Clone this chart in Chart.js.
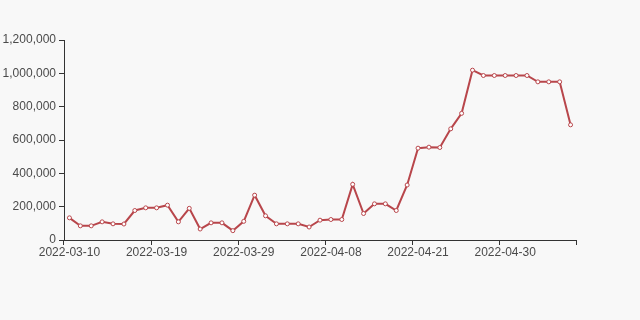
<!DOCTYPE html>
<html>
<head>
<meta charset="utf-8">
<script src="https://cdn.jsdelivr.net/npm/chart.js@4"></script>
<style>
  html, body { margin: 0; padding: 0; background: #f8f8f8; }
  #wrap { width: 640px; height: 320px; }
</style>
</head>
<body>
<div id="wrap"><canvas id="lineChart" width="640" height="320"></canvas></div>
<script>
// category dates (only every 8th one is labelled on the axis)
const dates = [
  '2022-03-10', '2022-03-11', '2022-03-12', '2022-03-14', '2022-03-15', '2022-03-16',
  '2022-03-17', '2022-03-18', '2022-03-19', '2022-03-20', '2022-03-22', '2022-03-23',
  '2022-03-24', '2022-03-25', '2022-03-26', '2022-03-28', '2022-03-29', '2022-03-30',
  '2022-03-31', '2022-04-01', '2022-04-02', '2022-04-05', '2022-04-06', '2022-04-07',
  '2022-04-08', '2022-04-09', '2022-04-11', '2022-04-12', '2022-04-14', '2022-04-15',
  '2022-04-18', '2022-04-19', '2022-04-21', '2022-04-22', '2022-04-23', '2022-04-24',
  '2022-04-25', '2022-04-26', '2022-04-27', '2022-04-28', '2022-04-30', '2022-05-01',
  '2022-05-02', '2022-05-03', '2022-05-04', '2022-05-05', '2022-05-06'
];

const values = [
  133000, 85000, 85000, 109000, 97000, 96000,
  177000, 193000, 193000, 209000, 109000, 190000,
  66000, 103000, 103000, 56000, 112000, 269000,
  145000, 97000, 97000, 97000, 78000, 119000,
  123000, 123000, 334000, 159000, 217000, 217000,
  177000, 330000, 551000, 557000, 555000, 667000,
  760000, 1019000, 987000, 987000, 987000, 987000,
  987000, 949000, 949000, 949000, 691000
];

const yTicks = [0, 200000, 400000, 600000, 800000, 1000000, 1200000];

const labelEvery = 8;
const axisColor = '#333';
const textColor = '#4a4a4a';
const lineColor = '#b8464b';

const ctx = document.getElementById('lineChart').getContext('2d');
const chart = new Chart(ctx, {
  type: 'line',
  data: {
    labels: dates,
    datasets: [{
      data: values,
      borderColor: lineColor,
      borderWidth: 2,
      pointRadius: 2,
      pointBorderWidth: 1,
      pointBackgroundColor: '#fff',
      pointBorderColor: lineColor,
      tension: 0
    }]
  },
  options: {
    responsive: false,
    animation: false,
    layout: { padding: { left: 0, top: 40, right: 64, bottom: 50 } },
    plugins: {
      legend: { display: false },
      tooltip: { enabled: false }
    },
    scales: {
      x: {
        type: 'category',
        offset: true,
        afterFit: (s) => { s.height = 30; },
        border: { display: true, color: axisColor, width: 1 },
        grid: {
          offset: true,
          drawOnChartArea: false,
          drawTicks: true,
          tickLength: 5,
          color: (c) => (c.index === undefined || c.index % labelEvery === 0) ? axisColor : 'rgba(0,0,0,0)'
        },
        ticks: {
          autoSkip: false,
          maxRotation: 0,
          padding: 0,
          color: textColor,
          font: { family: 'Liberation Sans, Arial, sans-serif', size: 12 },
          callback: function (v, i) { return i % labelEvery === 0 ? this.getLabelForValue(v) : ''; }
        }
      },
      y: {
        min: 0,
        max: 1200000,
        afterFit: (s) => { s.width = 64; },
        afterBuildTicks: (s) => { s.ticks = yTicks.map(v => ({ value: v })); },
        border: { display: true, color: axisColor, width: 1 },
        grid: {
          drawOnChartArea: false,
          drawTicks: true,
          tickLength: 5,
          color: axisColor
        },
        ticks: {
          padding: 3,
          color: textColor,
          font: { family: 'Liberation Sans, Arial, sans-serif', size: 12 },
          callback: (v) => v.toLocaleString('en-US')
        }
      }
    }
  }
});
</script>
</body>
</html>
